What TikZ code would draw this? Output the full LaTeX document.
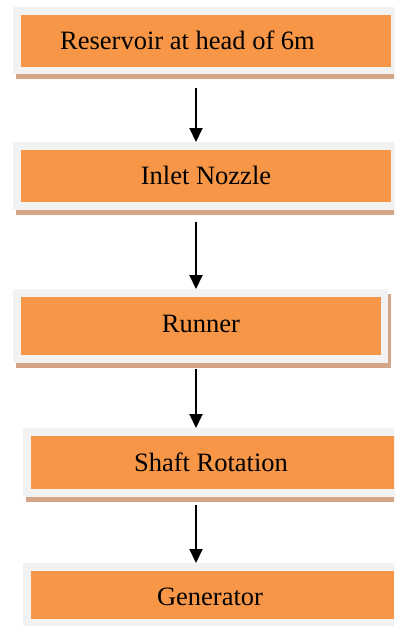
\documentclass[tikz,border=0pt]{standalone}
\usepackage{fontspec}
\setmainfont{Liberation Serif}
\usetikzlibrary{arrows.meta}
\definecolor{orng}{HTML}{F79646}
\definecolor{frm}{HTML}{F2F2F2}
\definecolor{shd}{HTML}{D3A586}
\tikzset{
  framebox/.style={fill=frm, inner sep=0pt, anchor=north west},
  shadowbox/.style={fill=shd, inner sep=0pt, anchor=north west},
  orangebox/.style={fill=orng, inner sep=0pt, anchor=north west},
  label/.style={inner sep=0pt, anchor=base, font=\fontsize{26.5}{30}\selectfont},
  arr/.style={line width=2pt, -{Triangle[width=13pt,length=14pt]}}
}
\begin{document}
\begin{tikzpicture}[x=1pt,y=-1pt]
\useasboundingbox (0,0) rectangle (394,626);
\clip (0,0) rectangle (394,626);
% box 1
\node[shadowbox, minimum width=384pt, minimum height=67pt] (s1) at (16,12) {};
\node[framebox, minimum width=384pt, minimum height=67pt] (f1) at (13,7) {};
\node[orangebox, minimum width=370pt, minimum height=52pt] (o1) at (21,15) {};
\node[label, anchor=base west] (t1) at (60,50) {Reservoir at head of 6m};
% box 2
\node[shadowbox, minimum width=384pt, minimum height=68pt] (s2) at (16,147) {};
\node[framebox, minimum width=384pt, minimum height=68pt] (f2) at (13,142) {};
\node[orangebox, minimum width=370pt, minimum height=52pt] (o2) at (21,150) {};
\node[label] (t2) at (206,184) {Inlet Nozzle};
% box 3
\node[shadowbox, minimum width=375pt, minimum height=74pt] (s3) at (16,294) {};
\node[framebox, minimum width=375pt, minimum height=74pt] (f3) at (13,289) {};
\node[orangebox, minimum width=360pt, minimum height=58pt] (o3) at (21,297) {};
\node[label] (t3) at (201,332) {Runner};
% box 4
\node[shadowbox, minimum width=374pt, minimum height=69pt] (s4) at (26,433) {};
\node[framebox, minimum width=374pt, minimum height=69pt] (f4) at (23,428) {};
\node[orangebox, minimum width=363pt, minimum height=53pt] (o4) at (31,436) {};
\node[label] (t4) at (211,471) {Shaft Rotation};
% box 5
\node[framebox, minimum width=374pt, minimum height=63pt] (f5) at (23,563) {};
\node[orangebox, minimum width=363pt, minimum height=48pt] (o5) at (31,571) {};
\node[label] (t5) at (210,605) {Generator};
% arrows
\coordinate (a1) at (196,88);
\coordinate (a2) at (196,222);
\coordinate (a3) at (196,369);
\coordinate (a4) at (196,505);
\draw[arr] (a1) -- (a1 |- f2.north);
\draw[arr] (a2) -- (a2 |- f3.north);
\draw[arr] (a3) -- (a3 |- f4.north);
\draw[arr] (a4) -- (a4 |- f5.north);
\end{tikzpicture}
\end{document}
